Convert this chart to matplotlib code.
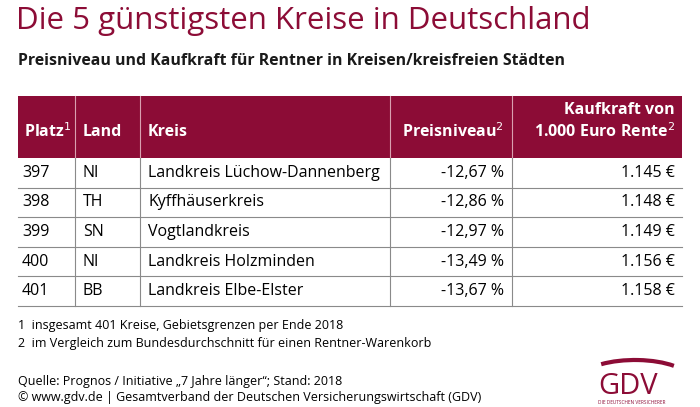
import matplotlib.pyplot as plt
from matplotlib.patches import Rectangle, Arc

RED = "#8c0c36"
GREY = "#8a8a8a"

platz = ["397", "398", "399", "400", "401"]
land = ["NI", "TH", "SN", "NI", "BB"]
kreis = ["Landkreis Lüchow-Dannenberg", "Kyffhäuserkreis", "Vogtlandkreis",
         "Landkreis Holzminden", "Landkreis Elbe-Elster"]
preisniveau = [-12.67, -12.86, -12.97, -13.49, -13.67]
kaufkraft = [1145, 1148, 1149, 1156, 1158]

def de_pct(v):
    return f"{v:.2f}".replace(".", ",") + " %"

def de_eur(v):
    return f"{v/1000:.3f} €"

plt.rcParams['font.family'] = ['Open Sans', 'DejaVu Sans']
fig = plt.figure(figsize=(7, 4.07), dpi=100)
ax = fig.add_axes([0, 0, 1, 1])
ax.set_xlim(0, 700)
ax.set_ylim(407, 0)
ax.axis("off")

FS = 11.5
ax.text(16, 21, "Die 5 günstigsten Kreise in Deutschland", color=RED,
        fontsize=22.5, va="center", ha="left")
ax.text(18, 61, "Preisniveau und Kaufkraft für Rentner in Kreisen/kreisfreien Städten",
        fontsize=11.4, fontweight="bold", va="center", color="#1a1a1a")

left, right = 18, 682
top, head_bot = 96, 158
row_h = 29.6
bottom = head_bot + row_h * len(platz)
cols = [left, 75, 140, 390, 512, right]

ax.add_patch(Rectangle((left, top), right - left, head_bot - top, color=RED, lw=0))
hy = 132
ax.text(24, hy, "Platz$^1$", color="white", fontsize=FS, fontweight="bold", va="center")
ax.text(83, hy, "Land", color="white", fontsize=FS, fontweight="bold", va="center")
ax.text(148, hy, "Kreis", color="white", fontsize=FS, fontweight="bold", va="center")
ax.text(504, hy, "Preisniveau$^2$", color="white", fontsize=FS, fontweight="bold",
        va="center", ha="right")
ax.text(675, 110, "Kaufkraft von", color="white", fontsize=FS, fontweight="bold",
        va="center", ha="right")
ax.text(675, hy, "1.000 Euro Rente$^2$", color="white", fontsize=FS, fontweight="bold",
        va="center", ha="right")

for x in cols[1:-1]:
    ax.plot([x, x], [top, head_bot], color="#d9a0b0", lw=0.8)
    ax.plot([x, x], [head_bot, bottom], color=GREY, lw=0.8)
for i in range(len(platz)):
    y0 = head_bot + i * row_h
    yc = y0 + row_h / 2
    ax.plot([left, right], [y0 + row_h] * 2, color=GREY, lw=0.8)
    ax.text(22, yc, platz[i], fontsize=FS, va="center")
    ax.text(83, yc, land[i], fontsize=FS, va="center")
    ax.text(148, yc, kreis[i], fontsize=FS, va="center")
    ax.text(504, yc, de_pct(preisniveau[i]), fontsize=FS, va="center", ha="right")
    ax.text(675, yc, de_eur(kaufkraft[i]), fontsize=FS, va="center", ha="right")

ax.text(18, 326, "1  insgesamt 401 Kreise, Gebietsgrenzen per Ende 2018", fontsize=9, va="center")
ax.text(18, 343, "2  im Vergleich zum Bundesdurchschnitt für einen Rentner-Warenkorb",
        fontsize=9, va="center")
ax.text(18, 381, "Quelle: Prognos / Initiative „7 Jahre länger“; Stand: 2018", fontsize=9, va="center")
ax.text(18, 397, "© www.gdv.de | Gesamtverband der Deutschen Versicherungswirtschaft (GDV)",
        fontsize=9, va="center")

# logo
ax.add_patch(Arc((635, 380), 110, 40, theta1=205, theta2=340, color=RED, lw=3))
ax.text(628, 386, "GDV", color=RED, fontsize=21, ha="center", va="center")
ax.text(632, 402, "DIE DEUTSCHEN VERSICHERER", color=RED, fontsize=3.4, ha="center", va="center")

fig.savefig("out.png", dpi=100)
